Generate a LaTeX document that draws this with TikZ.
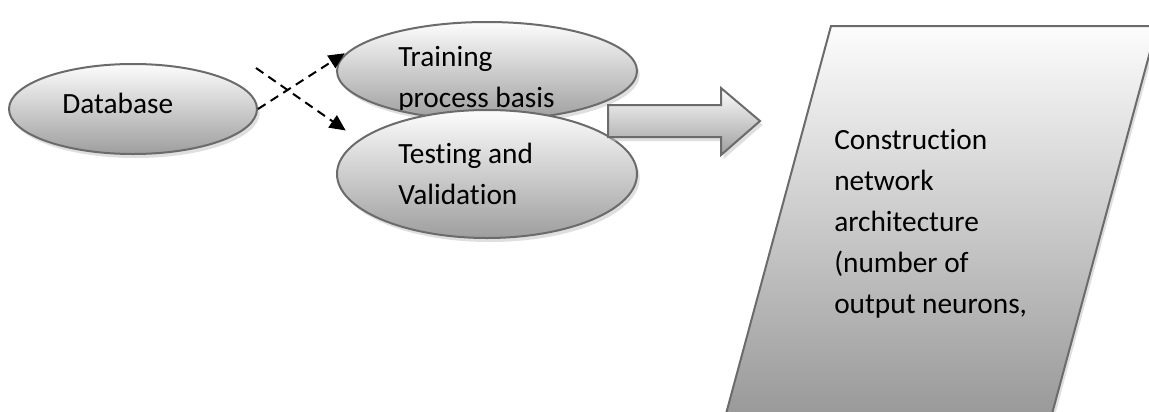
\documentclass[tikz,border=0pt]{standalone}
\usepackage{fontspec}
\setmainfont{Carlito}[Ligatures=NoCommon]
\usetikzlibrary{shapes.geometric,shadows,arrows.meta}

\begin{document}
\begin{tikzpicture}[x=0.75pt,y=-0.75pt,
    enode/.style={draw=black!58, line width=1.5pt, ellipse, inner sep=0pt, top color=black!1, middle color=black!12, bottom color=black!38, drop shadow={shadow xshift=2pt, shadow yshift=-3pt, fill=black!25}},
    tnode/.style={inner sep=0pt, align=left, anchor=base west, font=\fontsize{22}{30.75}\selectfont},
    darrow/.style={line width=1.5pt, dash pattern=on 6.75pt off 4.5pt, -{Triangle[length=12pt,width=11pt]}}]
    \clip (0,0) rectangle (1149,411);

    \node[enode, minimum width=186pt, minimum height=67.5pt] (db) at (133,109) {};
    \node[tnode] (dbt) at (62,113) {Database};

    \node[enode, minimum width=225pt, minimum height=73.5pt] (train) at (487,71) {};
    \begin{scope}
      \clip (330,0) rectangle (640,109);
      \node[tnode] (traint) at (398,107) {Training\\process basis};
    \end{scope}
    \node[enode, minimum width=225pt, minimum height=96pt] (test) at (487,174) {};
    \node[tnode] (testt) at (398,204) {Testing and\\Validation};

    \draw[draw=black!58, line width=1.5pt, top color=black!1, middle color=black!12, bottom color=black!38, drop shadow={shadow xshift=2pt, shadow yshift=-3pt, fill=black!25}]
        (608,105) -- (721,105) -- (721,88) -- (760,121) -- (721,155) -- (721,137) -- (608,137) -- cycle;

    \draw[draw=black!58, line width=1.5pt, top color=black!1, bottom color=black!42, drop shadow={shadow xshift=2pt, shadow yshift=-2pt, fill=black!25}]
        (831,26) -- (1157,26) -- (1046,436) -- (720,436) -- cycle;
    \node[tnode] (arch) at (834,313) {Construction\\network\\architecture\\(number of\\output neurons,};

    \coordinate (x1) at (256,68);
    \draw[darrow, shorten >=8pt] (db.east) -- (train.170);
    \draw[darrow, shorten >=12pt] (x1) -- (test.165);
\end{tikzpicture}
\end{document}
